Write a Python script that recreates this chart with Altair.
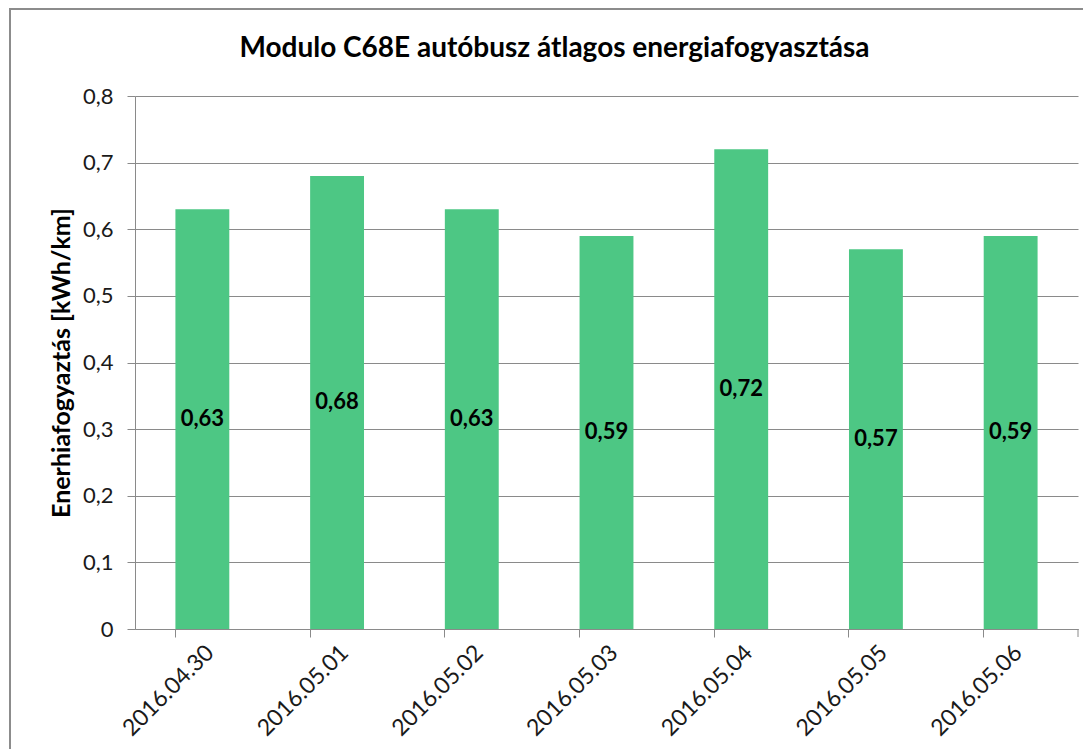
import altair as alt
import pandas as pd

dates = ["2016.04.30", "2016.05.01", "2016.05.02", "2016.05.03", "2016.05.04", "2016.05.05", "2016.05.06"]
values = [0.63, 0.68, 0.63, 0.59, 0.72, 0.57, 0.59]
labels = ["0,63", "0,68", "0,63", "0,59", "0,72", "0,57", "0,59"]
TITLE = "Modulo C68E autóbusz átlagos energiafogyasztása"
YTITLE = "Enerhiafogyaztás [kWh/km]"

df = pd.DataFrame({"date": dates, "value": values, "label": labels})

FONT = "Lato"
BAR = "#4DC784"
GRID = "#8a8a8a"

W, H = 943, 533

x_main = alt.X("date:N", sort=dates, title=None,
               scale=alt.Scale(paddingInner=0.6, paddingOuter=0.3),
               axis=alt.Axis(orient="bottom", labelAngle=-45, labelFontSize=23,
                             labelColor="#1a1a1a", labelFont=FONT, ticks=False,
                             domain=True, domainColor=GRID, labelPadding=12, grid=False))

y_axis = alt.Axis(values=[0, 0.1, 0.2, 0.3, 0.4, 0.5, 0.6, 0.7, 0.8],
                  labelExpr="replace(format(datum.value, '.1~f'), '.', ',')",
                  labelFontSize=22, labelFont=FONT, labelColor="#1a1a1a",
                  tickSize=8, tickColor=GRID, domainColor=GRID,
                  gridColor=GRID, gridWidth=1, labelPadding=14,
                  titleFont=FONT, titleFontSize=25, titleFontWeight="bold",
                  titleColor="#000000", titlePadding=8)
y_scale = alt.Scale(domain=[0, 0.8], nice=False)

bars = alt.Chart(df).mark_bar(color=BAR).encode(
    x=x_main,
    y=alt.Y("value:Q", title=YTITLE, scale=y_scale, axis=y_axis),
)

text = alt.Chart(df).transform_calculate(mid="datum.value / 2").mark_text(
    font=FONT, fontSize=22, fontWeight="bold", color="#000000", baseline="middle"
).encode(
    x=alt.X("date:N", sort=dates, title=None,
            axis=alt.Axis(orient="bottom", bandPosition=0, labels=False, ticks=True,
                          tickSize=8, tickColor=GRID, domain=False, grid=False)),
    y=alt.Y("mid:Q", title=YTITLE, scale=y_scale, axis=y_axis),
    text="label:N",
)

one = pd.DataFrame({"k": [0]})
end_tick = alt.Chart(one).mark_rule(color=GRID, strokeWidth=1).encode(
    x=alt.value(W), y=alt.value(H), y2=alt.value(H + 8))
frame_left = alt.Chart(one).mark_rule(color="#8c8c8c", strokeWidth=2).encode(
    x=alt.value(-125), y=alt.value(-87), y2=alt.value(H + 130))
frame_top = alt.Chart(one).mark_rule(color="#8c8c8c", strokeWidth=2).encode(
    x=alt.value(-126), x2=alt.value(W + 20), y=alt.value(-87))
title = alt.Chart(one).mark_text(
    font=FONT, fontSize=28, fontWeight="bold", color="#000000",
    align="center", baseline="alphabetic"
).encode(x=alt.value(W / 2 - 52), y=alt.value(-39), text=alt.value(TITLE))

chart = alt.layer(bars, text, end_tick, frame_left, frame_top, title).resolve_axis(
    x="independent"
).properties(
    width=W, height=H,
    autosize=alt.AutoSizeParams(type="none"),
    padding={"left": 127, "top": 88, "right": 5, "bottom": 120},
    background="white",
).configure_view(stroke=None)

chart.save("out.html", embed_options={"renderer": "svg", "actions": False})
